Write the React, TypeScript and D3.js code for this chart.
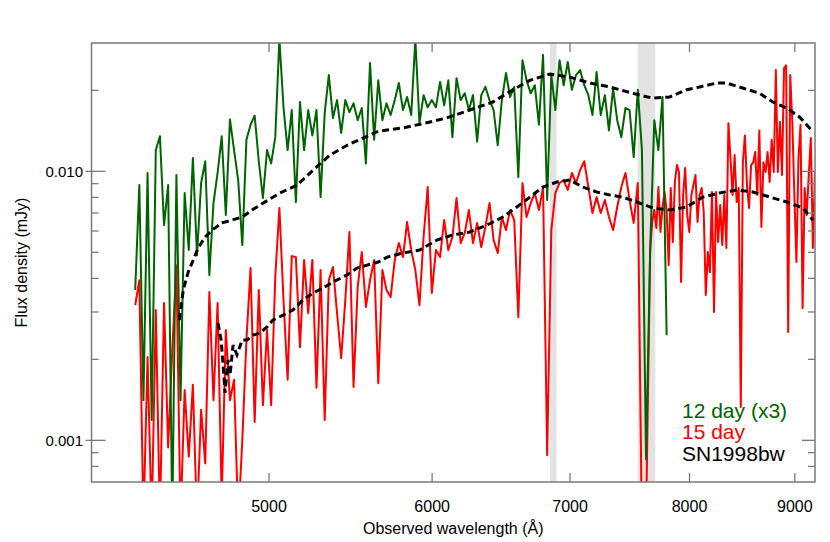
import React from "react";
import * as d3 from "d3";

const W = 830;
const H = 542;
const plot = { left: 91.5, right: 815, top: 43, bottom: 482 };

// observed spectra are sampled on log-lambda grids (log10 Å)
const LOG_LAMBDA0 = 3.634;
const DLOG = 0.002;
// red end of the 15 day spectrum, finer sampling
const LOG_LAMBDA1 = 3.884;
const DLOG_RED = 0.001;

// flux in units of 1e-3 mJy
const day12x3 = [
  3.62, 8.89, 1.41, 9.86, 1.19, 12.0, 13.5, 6.31, 8.89, 0.5,
  9.69, 1.41, 8.31, 5.10, 11.2, 4.88, 9.05, 10.9, 4.12, 7.62,
  9.86, 13.5, 6.88, 15.6, 12.0, 9.28, 5.32, 13.1, 14.9, 16.1,
  10.9, 7.96, 12.0, 10.7, 13.4, 31.0, 17.3, 12.0, 16.9, 7.69,
  18.1, 12.0, 16.9, 13.6, 16.9, 8.02, 16.5, 22.8, 15.8, 18.4,
  13.9, 18.4, 16.6, 17.9, 15.5, 17.2, 10.7, 25.3, 13.1, 21.8,
  15.5, 17.9, 16.2, 18.4, 21.3, 16.9, 18.9, 16.2, 31.0, 15.1,
  19.2, 17.3, 18.4, 17.3, 21.5, 17.6, 21.8, 13.4, 22.2, 18.4,
  19.5, 16.9, 19.2, 12.9, 19.2, 20.6, 18.4, 16.9, 12.5, 18.4,
  23.2, 18.9, 20.6, 9.52, 25.9, 21.8, 19.5, 20.9, 14.9, 27.1,
  7.82, 22.8, 16.9, 25.9, 20.9, 25.5, 20.1, 22.8, 23.8, 20.9,
  19.2, 16.2, 23.4, 16.2, 19.2, 14.2, 20.4, 15.5, 13.4, 17.2,
  16.9, 11.3, 20.1, 12.0, 0.85, 5.10, 15.5, 12.0, 18.9, 2.46,
];

const day15Blue = [
  3.18, 3.94, 0.5, 2.04, 0.5, 3.05, 0.5, 3.24, 0.94, 2.17,
  4.48, 0.5, 1.54, 0.87, 1.61, 0.5, 1.30, 0.82, 3.56, 1.41,
  3.24, 0.6, 2.57, 1.41, 1.68, 0.5, 1.00, 2.36, 4.37, 1.17,
  3.62, 1.35, 2.57, 1.35, 4.05, 7.31, 3.32, 1.68, 4.84, 4.80,
  2.22, 4.68, 2.97, 4.68, 1.57, 4.30, 1.19, 3.94, 4.41, 2.97,
  2.02, 3.32, 5.95, 1.58, 3.71, 5.01, 3.13, 3.94, 4.68, 1.63,
  4.30, 3.62, 3.41, 4.68, 5.41, 4.80, 6.48, 5.10, 4.30, 3.18,
  5.70, 8.74, 3.53, 5.10, 4.80, 6.59, 5.10, 5.70, 7.96, 5.41,
  5.90, 7.18, 5.41, 6.43, 5.23, 6.21, 7.62, 5.55, 4.97, 6.76,
  6.05, 7.18, 6.59, 2.87, 9.05, 6.76, 7.62, 8.31, 7.18, 8.74,
  0.88, 6.05, 8.31, 9.05, 9.28, 8.53, 9.86, 9.05, 10.1, 10.9,
  8.74, 7.00, 8.02, 7.00, 7.82, 6.76, 6.05, 7.37, 8.74, 9.86,
  7.82, 6.43, 9.05, 0.45, 0.5,
];

const day15Red = [
  5.10, 6.48, 7.18, 6.16, 8.74, 5.95, 7.37, 8.38, 7.06, 4.48,
  8.67, 5.46, 9.13, 10.55, 9.94, 3.88, 8.17, 10.3, 6.88, 5.95,
  8.17, 8.89, 9.69, 6.48, 8.17, 8.67, 7.06, 3.47, 5.01, 4.22,
  8.38, 3.00, 8.38, 5.46, 7.49, 5.32, 8.17, 5.19, 15.1, 11.2,
  8.17, 11.5, 7.69, 8.67, 1.33, 10.8, 13.6, 8.89, 7.31, 10.55,
  10.8, 11.8, 8.17, 14.2, 6.21, 10.8, 9.94, 11.8, 9.13, 13.1,
  9.94, 23.8, 9.94, 15.3, 9.69, 24.2, 24.8, 2.53, 22.8, 15.3,
  8.17, 4.60, 11.2, 14.9, 3.10, 8.67, 6.88, 9.69, 13.3, 5.19,
  9.94,
];

// SN1998bw template, matched to each epoch
const bwHighWave = [
  4523, 4543, 4568, 4594, 4619, 4655, 4692, 4744, 4797, 4852,
  4906, 4967, 5062, 5159, 5252, 5353, 5456, 5555, 5649, 5806,
  5951, 6099, 6258, 6421, 6567, 6693, 6844, 6998, 7156, 7318,
  7508, 7678, 7825, 7975, 8092, 8248, 8340, 8490, 8653, 8780,
  8919, 9049, 9171,
];
const bwHigh = [
  2.80, 3.62, 4.22, 4.68, 5.19, 5.70, 6.05, 6.43, 6.59, 6.76,
  7.18, 7.62, 8.31, 8.89, 10.1, 11.5, 12.5, 13.3, 14.1, 14.5,
  15.1, 15.8, 16.9, 18.1, 20.1, 21.8, 23.0, 22.4, 21.3, 20.6,
  19.5, 18.7, 18.9, 20.1, 20.6, 21.3, 21.3, 20.4, 19.5, 18.1,
  17.2, 15.9, 14.2,
];
const bwLowWave = [
  4723, 4739, 4750, 4760, 4776, 4787, 4803, 4824, 4852, 4879,
  4912, 4950, 4989, 5022, 5079, 5135, 5193, 5252, 5311, 5371,
  5456, 5517, 5579, 5649, 5706, 5806, 5917, 6031, 6140, 6258,
  6378, 6493, 6596, 6693, 6791, 6898, 6998, 7100, 7212, 7318,
  7426, 7543, 7678, 7825, 7975, 8119, 8275, 8434, 8587, 8752,
  8919, 9080, 9182,
];
const bwLow = [
  2.73, 2.36, 1.91, 1.50, 1.99, 1.75, 2.26, 2.08, 2.36, 2.36,
  2.46, 2.51, 2.64, 2.80, 2.92, 3.05, 3.32, 3.53, 3.68, 3.88,
  4.12, 4.37, 4.48, 4.60, 4.80, 4.97, 5.10, 5.55, 5.80, 5.95,
  6.31, 6.76, 7.37, 8.02, 8.74, 9.13, 9.28, 8.74, 8.38, 8.17,
  8.02, 7.69, 7.31, 7.18, 7.37, 8.02, 8.31, 8.53, 8.38, 8.02,
  7.69, 7.31, 6.59,
];

// telluric bands (Å)
const bandStart = [6845, 7550];
const bandEnd = [6895, 7700];

const xTicks = [5000, 6000, 7000, 8000, 9000];
const yMajor = [0.001, 0.01];
const yMinor = [0.0008, 0.0009, 0.002, 0.003, 0.004, 0.005, 0.006, 0.007, 0.008, 0.009, 0.02];

const legendLabels = ["12 day (x3)", "15 day", "SN1998bw"];
const legendColors = ["#006400", "#ff0000", "#000000"];

const font = "'Liberation Sans', Arial, sans-serif";
const axisColor = "#7a7a7a";

export default function App() {
  const x = d3.scaleLog().domain([4100, 9205]).range([plot.left, plot.right]);
  const y = d3.scaleLog().domain([0.0007, 0.03]).range([plot.bottom, plot.top]);

  const line = d3.line<[number, number]>()
    .x(d => x(d[0]))
    .y(d => y(d[1] / 1000));

  const onGrid = (vals: number[], l0: number, dl: number): [number, number][] =>
    vals.map((v, i) => [Math.pow(10, l0 + dl * i), v]);
  const paired = (wave: number[], vals: number[]): [number, number][] =>
    vals.map((v, i) => [wave[i], v]);

  const green = onGrid(day12x3, LOG_LAMBDA0, DLOG);
  const red = [...onGrid(day15Blue, LOG_LAMBDA0, DLOG), ...onGrid(day15Red, LOG_LAMBDA1, DLOG_RED)];

  const fmt = d3.format(".3f");

  return (
    <div style={{ position: "fixed", left: 0, top: 0 }}>
      <svg width={W} height={H} style={{ display: "block", background: "#fff" }}>
        <defs>
          <clipPath id="plotclip">
            <rect x={plot.left} y={plot.top} width={plot.right - plot.left} height={plot.bottom - plot.top} />
          </clipPath>
        </defs>

        <g clipPath="url(#plotclip)">
          {bandStart.map((s, i) => (
            <rect key={i} x={x(s)} y={plot.top} width={x(bandEnd[i]) - x(s)}
              height={plot.bottom - plot.top} fill="#e3e3e3" />
          ))}
          <path d={line(red) || ""} fill="none" stroke="#ff0000" strokeWidth={2} strokeLinejoin="round" />
          <path d={line(green) || ""} fill="none" stroke="#006400" strokeWidth={2} strokeLinejoin="round" />
          <path d={line(paired(bwHighWave, bwHigh)) || ""} fill="none" stroke="#000" strokeWidth={3} strokeDasharray="7,4" />
          <path d={line(paired(bwLowWave, bwLow)) || ""} fill="none" stroke="#000" strokeWidth={3} strokeDasharray="7,4" />
        </g>

        {/* frame */}
        <rect x={plot.left} y={plot.top} width={plot.right - plot.left} height={plot.bottom - plot.top}
          fill="none" stroke={axisColor} strokeWidth={1.5} />

        {/* x ticks */}
        {xTicks.map(t => (
          <g key={t}>
            <line x1={x(t)} x2={x(t)} y1={plot.bottom} y2={plot.bottom - 9} stroke={axisColor} strokeWidth={1.3} />
            <line x1={x(t)} x2={x(t)} y1={plot.top} y2={plot.top + 9} stroke={axisColor} strokeWidth={1.3} />
            <text x={x(t)} y={511.5} textAnchor="middle" fontFamily={font} fontSize={16} fill="#000">{t}</text>
          </g>
        ))}

        {/* y ticks */}
        {yMajor.map(t => (
          <g key={t}>
            <line x1={plot.left - 6} x2={plot.left + 14} y1={y(t)} y2={y(t)} stroke={axisColor} strokeWidth={1.3} />
            <line x1={plot.right - 13} x2={plot.right} y1={y(t)} y2={y(t)} stroke={axisColor} strokeWidth={1.3} />
            <text x={83} y={y(t) + 5.5} textAnchor="end" fontFamily={font} fontSize={15} fill="#000">{fmt(t)}</text>
          </g>
        ))}
        {yMinor.map(t => (
          <g key={t}>
            <line x1={plot.left} x2={plot.left + 7} y1={y(t)} y2={y(t)} stroke={axisColor} strokeWidth={1.3} />
            <line x1={plot.right - 7} x2={plot.right} y1={y(t)} y2={y(t)} stroke={axisColor} strokeWidth={1.3} />
          </g>
        ))}

        <text x={(plot.left + plot.right) / 2} y={534} textAnchor="middle" fontFamily={font} fontSize={16} fill="#000">
          Observed wavelength (Å)
        </text>
        <text transform={`translate(27, ${(plot.top + plot.bottom) / 2}) rotate(-90)`} textAnchor="middle"
          fontFamily={font} fontSize={16} fill="#000">
          Flux density (mJy)
        </text>

        {legendLabels.map((l, i) => (
          <text key={l} x={682} y={418 + i * 21.4} fontFamily={font} fontSize={21} fill={legendColors[i]}>{l}</text>
        ))}
      </svg>
    </div>
  );
}
